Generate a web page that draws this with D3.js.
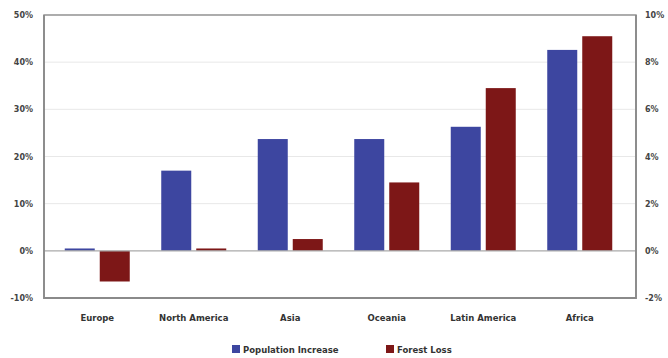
<!DOCTYPE html>
<html><head><meta charset="utf-8">
<script src="https://cdn.jsdelivr.net/npm/d3@7"></script>
<style>body{margin:0;background:#fff}svg{display:block}text{font-family:"DejaVu Sans",Verdana,sans-serif}</style>
</head><body><svg id="c" width="668" height="358"></svg>
<script>
const categories = ["Europe","North America","Asia","Oceania","Latin America","Africa"];
const populationIncrease = [0.5,17.0,23.7,23.7,26.3,42.6];
const forestLoss = [-1.3,0.1,0.5,2.9,6.9,9.1];
const leftTicks = [-10,0,10,20,30,40,50];
const rightTicks = [-2,0,2,4,6,8,10];
const seriesNames = ["Population Increase","Forest Loss"];
const colors = ["#3d46a0","#7d1717"];

const svg = d3.select("#c");
const L=44, R=636, T=15, B=298;
const x = d3.scaleBand().domain(categories).range([49,628]);
const yL = d3.scaleLinear().domain([-10,50]).range([B,T]);
const yR = d3.scaleLinear().domain([-2,10]).range([B,T]);

// gridlines
svg.append("g").selectAll("line").data(leftTicks.filter(d=>d>0&&d<50)).join("line")
  .attr("x1",L).attr("x2",R).attr("y1",d=>yL(d)).attr("y2",d=>yL(d))
  .attr("stroke","#e8e8e8").attr("stroke-width",1);

const bw = 30, gap = 5;
const g = svg.append("g");
g.selectAll("rect.p").data(categories).join("rect")
  .attr("x",(d)=>x(d)+x.bandwidth()/2 - gap/2 - bw)
  .attr("width",bw)
  .attr("y",(d,i)=>Math.min(yL(populationIncrease[i]),yL(0)))
  .attr("height",(d,i)=>Math.abs(yL(populationIncrease[i])-yL(0)))
  .attr("fill",colors[0]);
g.selectAll("rect.f").data(categories).join("rect")
  .attr("x",(d)=>x(d)+x.bandwidth()/2 + gap/2)
  .attr("width",bw)
  .attr("y",(d,i)=>Math.min(yR(forestLoss[i]),yR(0)))
  .attr("height",(d,i)=>Math.abs(yR(forestLoss[i])-yR(0)))
  .attr("fill",colors[1]);

// zero line
svg.append("line").attr("x1",L).attr("x2",R).attr("y1",yL(0)).attr("y2",yL(0))
  .attr("stroke","#aaa").attr("stroke-width",1.2);

// axes
const axL = d3.axisLeft(yL).tickValues(leftTicks).tickFormat(d=>d+"%").tickSize(0).tickPadding(11);
const axR = d3.axisRight(yR).tickValues(rightTicks).tickFormat(d=>d+"%").tickSize(0).tickPadding(9);
const gl = svg.append("g").attr("transform",`translate(${L},0)`).call(axL);
const gr = svg.append("g").attr("transform",`translate(${R},0)`).call(axR);
[gl,gr].forEach(a=>{a.select(".domain").remove();
  a.selectAll("text").attr("font-size",8).attr("font-weight","bold").attr("fill","#444").attr("font-family","DejaVu Sans, sans-serif");});

svg.append("rect").attr("x",L).attr("y",T).attr("width",R-L).attr("height",B-T)
  .attr("fill","none").attr("stroke","#8a8a8a").attr("stroke-width",1.4);
svg.append("path").attr("d",`M${L},${T}V${B}H${R}V${T}`).attr("fill","none").attr("stroke","#8a8a8a").attr("stroke-width",1.8);

// category labels
const axB = d3.axisBottom(x).tickSize(0).tickPadding(17);
const gb = svg.append("g").attr("transform",`translate(0,${B})`).call(axB);
gb.select(".domain").remove();
gb.selectAll("text").attr("font-size",8.5).attr("font-weight","bold").attr("fill","#333").attr("font-family","DejaVu Sans, sans-serif");

// legend
const leg = svg.append("g");
const items = [{x:232},{x:386}];
seriesNames.forEach((n,i)=>{
  leg.append("rect").attr("x",items[i].x).attr("y",345).attr("width",8).attr("height",8).attr("fill",colors[i]);
  leg.append("text").attr("x",items[i].x+11).attr("y",352.5).text(n).attr("font-size",8.5).attr("font-weight","bold").attr("fill","#333");
});
</script></body></html>
